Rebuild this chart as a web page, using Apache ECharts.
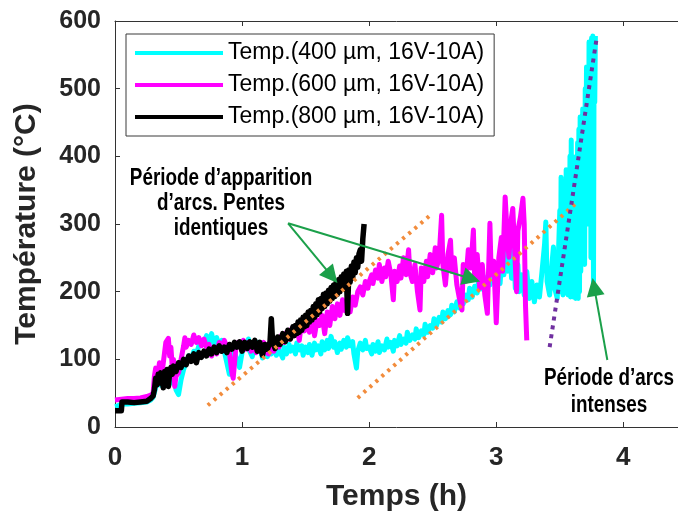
<!DOCTYPE html>
<html>
<head>
<meta charset="utf-8">
<script src="https://cdn.jsdelivr.net/npm/echarts@6/dist/echarts.min.js"></script>
<style>
html,body{margin:0;padding:0;background:#fff;}
#chart{width:678px;height:519px;}
</style>
</head>
<body>
<div id="chart"></div>
<script>
// ---- Data (time in h, temperature in °C) ----
var names = ['Temp.(400 µm, 16V-10A)', 'Temp.(600 µm, 16V-10A)', 'Temp.(800 µm, 16V-10A)'];
var xTicks = [0, 1, 2, 3, 4];
var yTicks = [0, 100, 200, 300, 400, 500, 600];

var temp400 = [[0,30],[0.02,31],[0.04,33],[0.06,34],[0.1,34],[0.15,35],[0.2,36],[0.25,37],[0.28,40],[0.3,44],[0.32,58],[0.34,70],[0.36,62],[0.38,75],[0.4,68],[0.42,80],[0.44,65],[0.46,75],[0.48,55],[0.5,48],[0.52,70],[0.54,85],[0.56,95],[0.58,105],[0.6,100],[0.62,112],[0.64,108],[0.66,120],[0.68,128],[0.7,122],[0.72,135],[0.74,125],[0.76,138],[0.78,122],[0.8,132],[0.82,120],[0.84,128],[0.86,112],[0.88,95],[0.9,78],[0.92,118],[0.94,110],[0.96,100],[0.98,88],[1.0,110],[1.01,125],[1.03,116],[1.05,130],[1.06,112],[1.08,104],[1.1,122],[1.11,112],[1.13,125],[1.15,110],[1.16,102],[1.18,118],[1.2,104],[1.21,114],[1.23,108],[1.25,120],[1.27,106],[1.28,116],[1.3,110],[1.32,102],[1.33,118],[1.35,108],[1.37,122],[1.38,112],[1.4,118],[1.42,108],[1.43,124],[1.45,114],[1.47,120],[1.48,106],[1.5,118],[1.52,110],[1.53,122],[1.55,106],[1.57,124],[1.58,114],[1.6,120],[1.62,108],[1.63,126],[1.65,114],[1.67,128],[1.68,116],[1.7,134],[1.72,118],[1.73,126],[1.75,110],[1.77,124],[1.78,115],[1.8,128],[1.82,118],[1.83,132],[1.85,120],[1.87,126],[1.88,108],[1.9,87],[1.91,112],[1.93,124],[1.95,114],[1.97,128],[1.98,116],[2.0,118],[2.02,108],[2.03,122],[2.05,112],[2.07,126],[2.08,110],[2.1,120],[2.12,114],[2.14,130],[2.15,118],[2.17,125],[2.19,112],[2.2,128],[2.22,120],[2.24,135],[2.25,122],[2.27,130],[2.29,124],[2.3,140],[2.32,128],[2.34,136],[2.36,130],[2.37,145],[2.39,132],[2.41,142],[2.43,136],[2.44,152],[2.46,140],[2.48,150],[2.5,146],[2.51,160],[2.53,150],[2.55,162],[2.57,155],[2.58,170],[2.6,160],[2.62,172],[2.64,166],[2.65,180],[2.67,170],[2.69,185],[2.71,176],[2.72,190],[2.74,182],[2.76,195],[2.78,188],[2.79,205],[2.81,192],[2.83,208],[2.85,198],[2.86,215],[2.88,204],[2.9,212],[2.92,200],[2.93,222],[2.95,210],[2.97,226],[2.99,214],[3.0,215],[3.02,240],[3.03,212],[3.05,262],[3.06,225],[3.08,285],[3.09,230],[3.11,270],[3.12,220],[3.14,255],[3.15,205],[3.17,240],[3.18,200],[3.2,225],[3.22,195],[3.24,230],[3.26,190],[3.28,215],[3.3,185],[3.32,210],[3.34,192],[3.36,230],[3.38,270],[3.39,303],[3.4,215],[3.42,195],[3.44,245],[3.45,266],[3.46,205],[3.48,190],[3.49,260],[3.5,320],[3.505,200],[3.51,369],[3.515,215],[3.52,340],[3.525,195],[3.53,300],[3.535,210],[3.54,350],[3.545,198],[3.55,380],[3.555,205],[3.56,330],[3.565,195],[3.57,360],[3.575,200],[3.58,400],[3.585,192],[3.59,424],[3.595,210],[3.6,380],[3.605,192],[3.61,350],[3.615,200],[3.62,399],[3.625,190],[3.63,370],[3.635,195],[3.64,420],[3.645,190],[3.65,440],[3.655,200],[3.66,458],[3.665,230],[3.67,414],[3.675,260],[3.68,470],[3.685,300],[3.69,450],[3.695,240],[3.7,500],[3.705,350],[3.71,532],[3.715,400],[3.72,520],[3.725,300],[3.73,569],[3.735,420],[3.74,560],[3.745,250],[3.75,575],[3.755,450],[3.76,578],[3.765,200],[3.77,570],[3.775,480],[3.78,578]];

var temp600 = [[0,40],[0.05,41],[0.1,42],[0.15,42],[0.2,43],[0.25,45],[0.28,47],[0.3,50],[0.31,75],[0.32,87],[0.33,70],[0.35,95],[0.37,80],[0.39,110],[0.4,125],[0.42,131],[0.43,105],[0.44,118],[0.45,90],[0.46,100],[0.47,60],[0.48,75],[0.5,80],[0.52,100],[0.54,120],[0.55,132],[0.56,118],[0.58,128],[0.6,122],[0.62,136],[0.64,125],[0.66,132],[0.68,120],[0.7,130],[0.72,118],[0.74,122],[0.76,105],[0.78,118],[0.8,108],[0.82,125],[0.84,115],[0.86,128],[0.88,118],[0.9,110],[0.92,80],[0.93,72],[0.95,115],[0.97,125],[0.99,118],[1.01,128],[1.03,115],[1.05,125],[1.07,112],[1.09,122],[1.11,110],[1.13,120],[1.15,112],[1.17,125],[1.19,110],[1.21,108],[1.23,120],[1.25,112],[1.27,128],[1.29,118],[1.31,135],[1.33,125],[1.35,140],[1.37,130],[1.39,145],[1.41,135],[1.43,150],[1.45,128],[1.47,158],[1.49,142],[1.51,160],[1.53,140],[1.55,162],[1.57,135],[1.59,158],[1.61,150],[1.63,165],[1.65,138],[1.67,170],[1.69,150],[1.71,178],[1.73,160],[1.75,182],[1.77,165],[1.79,188],[1.81,172],[1.83,183],[1.85,170],[1.87,192],[1.89,180],[1.91,200],[1.93,207],[1.95,195],[1.97,215],[1.99,205],[2.0,215],[2.02,225],[2.03,212],[2.05,232],[2.07,220],[2.08,240],[2.1,215],[2.12,235],[2.13,222],[2.15,245],[2.17,226],[2.19,188],[2.2,230],[2.22,215],[2.24,238],[2.25,220],[2.27,250],[2.29,225],[2.31,262],[2.32,228],[2.34,215],[2.36,240],[2.38,200],[2.4,173],[2.41,235],[2.43,215],[2.45,245],[2.46,222],[2.48,255],[2.5,228],[2.52,265],[2.53,235],[2.55,250],[2.57,313],[2.58,240],[2.6,210],[2.62,255],[2.64,276],[2.65,230],[2.67,250],[2.69,210],[2.71,190],[2.73,173],[2.74,240],[2.76,215],[2.78,262],[2.8,235],[2.82,291],[2.83,220],[2.85,255],[2.87,205],[2.89,240],[2.91,195],[2.93,168],[2.95,301],[2.96,225],[2.98,245],[3.0,154],[3.02,250],[3.04,280],[3.05,230],[3.07,340],[3.09,270],[3.1,251],[3.12,310],[3.13,323],[3.15,240],[3.16,200],[3.17,290],[3.19,310],[3.21,338],[3.22,300],[3.23,180],[3.24,128]];

var temp800 = [[0,24],[0.05,24],[0.055,37],[0.1,37],[0.15,36],[0.2,37],[0.25,38],[0.28,42],[0.3,46],[0.31,55],[0.32,72],[0.33,62],[0.34,78],[0.35,65],[0.36,80],[0.37,70],[0.38,58],[0.39,82],[0.4,75],[0.41,85],[0.42,60],[0.43,80],[0.44,88],[0.45,78],[0.46,90],[0.48,82],[0.5,95],[0.52,88],[0.54,100],[0.56,92],[0.58,105],[0.6,97],[0.62,108],[0.64,95],[0.66,110],[0.68,103],[0.7,112],[0.72,105],[0.74,115],[0.76,108],[0.78,118],[0.8,110],[0.82,120],[0.84,112],[0.86,118],[0.88,110],[0.9,122],[0.92,115],[0.94,125],[0.96,118],[0.98,126],[1.0,112],[1.02,125],[1.04,116],[1.06,126],[1.08,118],[1.1,128],[1.12,112],[1.14,125],[1.16,106],[1.18,122],[1.2,115],[1.22,126],[1.23,160],[1.24,126],[1.26,116],[1.28,133],[1.3,122],[1.32,138],[1.34,126],[1.36,143],[1.38,130],[1.4,148],[1.41,135],[1.42,150],[1.43,138],[1.44,155],[1.45,140],[1.46,158],[1.47,143],[1.48,162],[1.49,148],[1.5,165],[1.51,150],[1.52,170],[1.53,155],[1.54,172],[1.55,158],[1.56,178],[1.57,162],[1.58,182],[1.59,166],[1.6,188],[1.61,170],[1.62,190],[1.63,175],[1.64,196],[1.65,178],[1.66,198],[1.67,182],[1.68,202],[1.69,186],[1.7,206],[1.71,190],[1.72,210],[1.73,193],[1.74,214],[1.75,196],[1.76,218],[1.77,200],[1.78,222],[1.79,204],[1.8,226],[1.81,208],[1.82,230],[1.83,168],[1.84,232],[1.85,214],[1.86,238],[1.87,220],[1.88,244],[1.89,228],[1.9,250],[1.91,236],[1.92,256],[1.93,262],[1.94,245],[1.95,278],[1.96,300]];

var slope1 = [[0.73,32],[2.50,316]];
var slope2 = [[1.91,43],[3.63,331]];
var slopeIntense = [[3.42,118],[3.79,575]];

// annotation arrows: [tail, head]
var arrows = [
  [[1.362,301],[1.705,223]],
  [[1.362,301],[2.805,219]],
  [[3.874,99],[3.770,207]]
];

var chart = echarts.init(document.getElementById('chart'), null, {renderer:'canvas'});
var axisCol = '#333333';
var F = '"Liberation Sans", Arial, Helvetica, sans-serif';

function lineSeries(name, data, color, w) {
  return {
    name: name, type: 'line', data: data, symbol: 'none', showSymbol: false, smooth: false,
    lineStyle: {color: color, width: w, join: 'round'}, itemStyle: {color: color},
    animation: false, z: 3
  };
}
function dotted(data, color, dash) {
  return {
    type: 'line', data: data, symbol: 'none', silent: true,
    lineStyle: {color: color, width: 4, type: dash, cap: 'butt'},
    animation: false, z: 4
  };
}

var option = {
  animation: false,
  backgroundColor: '#ffffff',
  grid: {left: 115, top: 21, right: 0, bottom: 92, containLabel: false},
  legend: {
    data: names, orient: 'vertical', left: 126, top: 34,
    padding: [7, 10, 7, 9], itemWidth: 88, itemHeight: 4, itemGap: 8,
    icon: 'rect',
    borderColor: '#3a3a3a', borderWidth: 1, backgroundColor: '#fff',
    textStyle: {fontFamily: F, fontSize: 23, color: '#000', lineHeight: 24},
    selectedMode: false
  },
  xAxis: [{
    type: 'value', min: 0, max: 4.43, interval: 1,
    name: 'Temps (h)', nameLocation: 'middle', nameGap: 55,
    nameTextStyle: {fontFamily: F, fontSize: 30, fontWeight: 'bold', color: '#262626'},
    axisLine: {show: true, lineStyle: {color: axisCol, width: 1}},
    axisTick: {show: true, inside: true, length: 5, lineStyle: {color: axisCol}},
    axisLabel: {show: true, fontFamily: F, fontSize: 26, fontWeight: 'bold', color: '#262626', margin: 18, showMaxLabel: false,
      formatter: function(v){ return xTicks.indexOf(v) >= 0 ? String(v) : ''; }},
    splitLine: {show: false}
  }, {
    type: 'value', min: 0, max: 4.43, interval: 1, position: 'top',
    axisLine: {show: true, lineStyle: {color: axisCol, width: 1}},
    axisTick: {show: true, inside: true, length: 5, lineStyle: {color: axisCol}},
    axisLabel: {show: false}, splitLine: {show: false}
  }],
  yAxis: [{
    type: 'value', min: 0, max: 600, interval: 100,
    name: 'Température (°C)', nameLocation: 'middle', nameGap: 73,
    nameTextStyle: {fontFamily: F, fontSize: 30, fontWeight: 'bold', color: '#262626'},
    axisLine: {show: true, lineStyle: {color: axisCol, width: 1}},
    axisTick: {show: true, inside: true, length: 5, lineStyle: {color: axisCol}},
    axisLabel: {show: true, fontFamily: F, fontSize: 25, fontWeight: 'bold', color: '#262626', margin: 14,
      formatter: function(v){ return yTicks.indexOf(v) >= 0 ? String(v) : ''; }},
    splitLine: {show: false}
  }],
  series: [
    lineSeries(names[0], temp400, '#00FFFF', 5),
    lineSeries(names[1], temp600, '#FF00FF', 5),
    lineSeries(names[2], temp800, '#000000', 5.5),
    dotted(slope1, '#F28C3C', [3, 5]),
    dotted(slope2, '#F28C3C', [3, 5]),
    dotted(slopeIntense, '#7030A0', [4, 5]),
    {
      type: 'line', data: [], symbol: 'none', silent: true, z: 5,
      markLine: {
        silent: true, animation: false,
        symbol: ['none', 'triangle'], symbolSize: 18,
        lineStyle: {color: '#1BA04A', width: 2, type: 'solid'},
        itemStyle: {color: '#1BA04A'},
        label: {show: false},
        data: arrows.map(function(a){ return [{coord: a[0]}, {coord: a[1]}]; })
      }
    }
  ],
  graphic: [
    {type: 'text', x: 221, y: 166, scaleX: 0.82, z: 10,
     style: {text: 'Période d’apparition\nd’arcs. Pentes\nidentiques', x: 0, y: 0, textAlign: 'center',
       fontFamily: F, fontSize: 23, fontWeight: 'bold', lineHeight: 25, fill: '#000'}},
    {type: 'text', x: 609, y: 365, scaleX: 0.82, z: 10,
     style: {text: 'Période d’arcs\nintenses', x: 0, y: 0, textAlign: 'center',
       fontFamily: F, fontSize: 23, fontWeight: 'bold', lineHeight: 27, fill: '#000'}}
  ]
};
chart.setOption(option);
</script>
</body>
</html>
